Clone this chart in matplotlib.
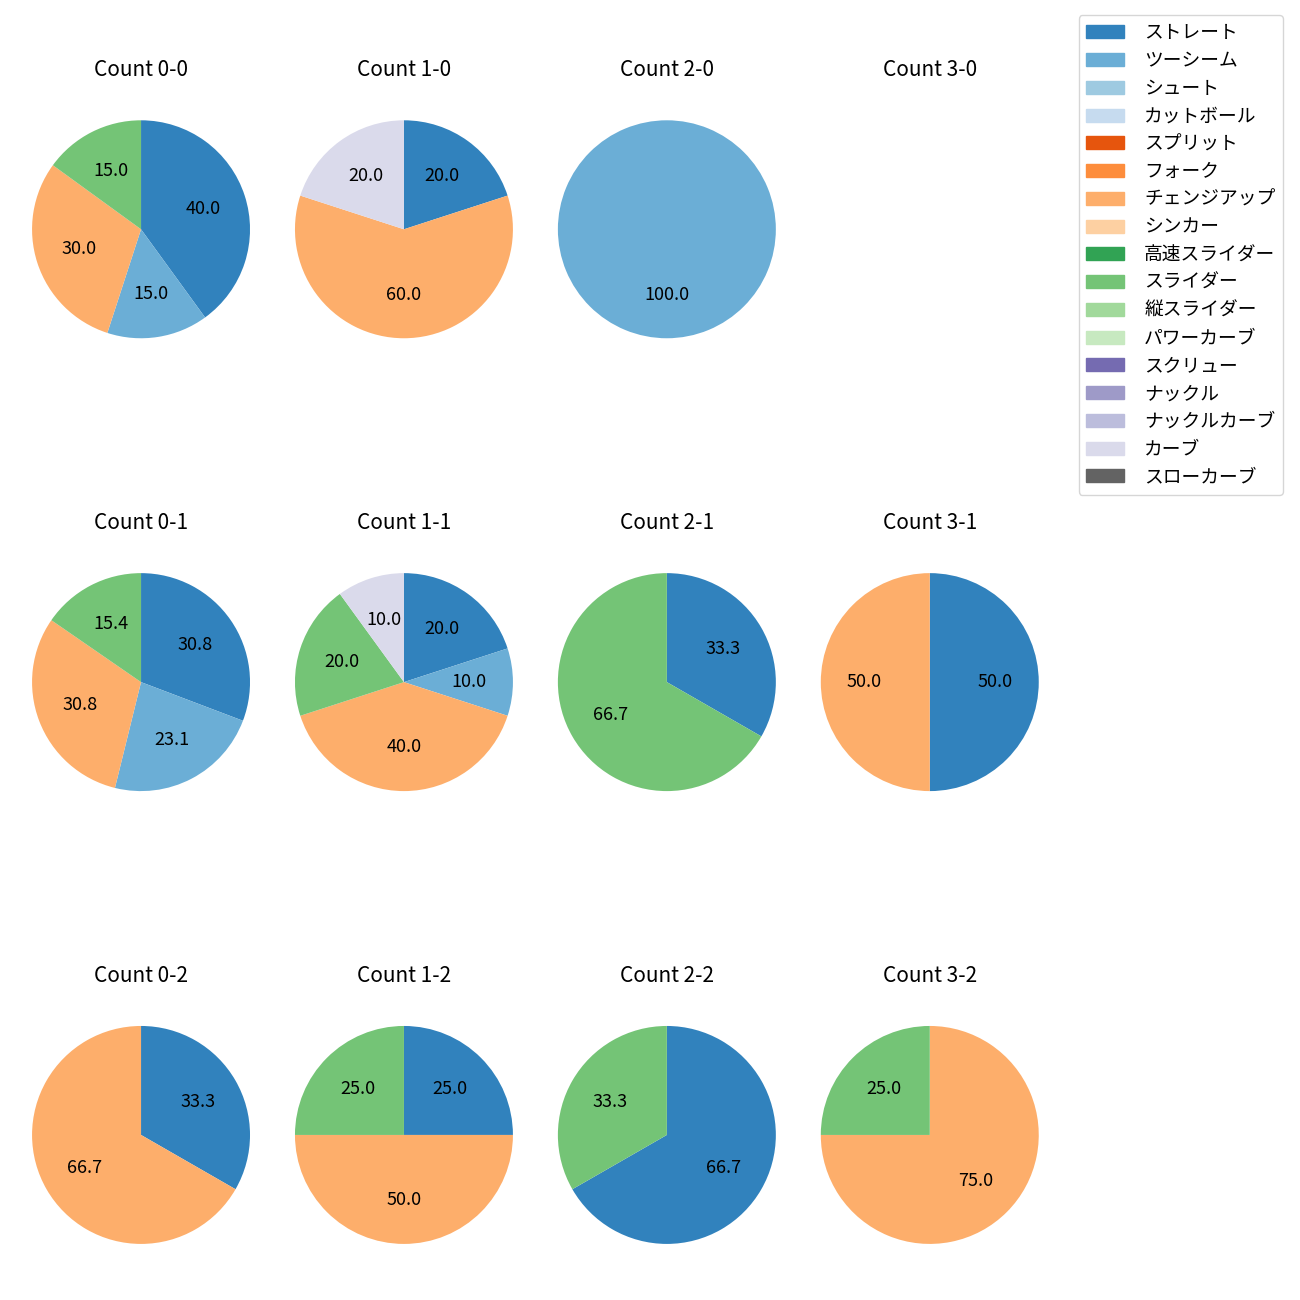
import matplotlib.pyplot as plt
import matplotlib.patches as mpatches

plt.rcParams['font.family'] = ['Noto Sans CJK JP', 'DejaVu Sans']

# pitch types, in legend order (tab20c colours)
pitch_types = ['ストレート', 'ツーシーム', 'シュート', 'カットボール', 'スプリット', 'フォーク',
               'チェンジアップ', 'シンカー', '高速スライダー', 'スライダー', '縦スライダー',
               'パワーカーブ', 'スクリュー', 'ナックル', 'ナックルカーブ', 'カーブ', 'スローカーブ']

# percentages per count (balls-strikes)
count_0_0 = {'ストレート': 40.0, 'ツーシーム': 15.0, 'チェンジアップ': 30.0, 'スライダー': 15.0}
count_1_0 = {'ストレート': 20.0, 'チェンジアップ': 60.0, 'カーブ': 20.0}
count_2_0 = {'ツーシーム': 100.0}
count_3_0 = {}
count_0_1 = {'ストレート': 30.8, 'ツーシーム': 23.1, 'チェンジアップ': 30.8, 'スライダー': 15.4}
count_1_1 = {'ストレート': 20.0, 'ツーシーム': 10.0, 'チェンジアップ': 40.0, 'スライダー': 20.0, 'カーブ': 10.0}
count_2_1 = {'ストレート': 33.3, 'スライダー': 66.7}
count_3_1 = {'ストレート': 50.0, 'チェンジアップ': 50.0}
count_0_2 = {'ストレート': 33.3, 'チェンジアップ': 66.7}
count_1_2 = {'ストレート': 25.0, 'チェンジアップ': 50.0, 'スライダー': 25.0}
count_2_2 = {'ストレート': 66.7, 'スライダー': 33.3}
count_3_2 = {'チェンジアップ': 75.0, 'スライダー': 25.0}

grid = [[count_0_0, count_1_0, count_2_0, count_3_0],
        [count_0_1, count_1_1, count_2_1, count_3_1],
        [count_0_2, count_1_2, count_2_2, count_3_2]]

cmap = plt.get_cmap('tab20c')
colors = {p: cmap(i) for i, p in enumerate(pitch_types)}

fig, axes = plt.subplots(3, 4, figsize=(13, 13))
fig.subplots_adjust(left=0.0037, right=0.82, top=0.936, bottom=0.0146,
                    wspace=-0.035, hspace=0.55)

for r in range(3):
    for c in range(4):
        ax = axes[r][c]
        data = grid[r][c]
        ax.set_title(f'Count {c}-{r}', fontsize=15, pad=12)
        if data:
            labels = list(data.keys())
            vals = list(data.values())
            ax.pie(vals, colors=[colors[l] for l in labels], startangle=90,
                   counterclock=False, autopct='%.1f',
                   textprops={'fontsize': 13})
        ax.set_aspect('equal')
        ax.axis('off')

handles = [mpatches.Patch(color=colors[p], label=p) for p in pitch_types]
fig.legend(handles=handles, loc='upper right', bbox_to_anchor=(0.9869, 0.9885),
           borderaxespad=0, fontsize=13.5, handletextpad=1.1, labelspacing=0.36)

fig.savefig('out.png', dpi=100)
